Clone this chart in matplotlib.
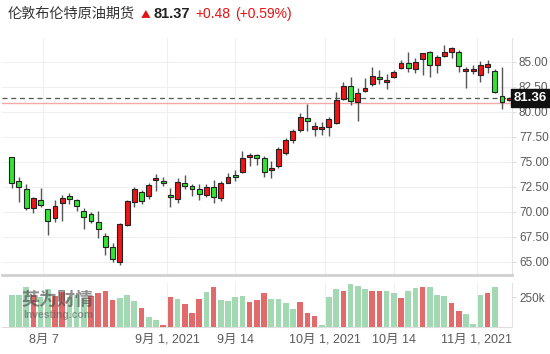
import matplotlib
matplotlib.use("Agg")
import matplotlib.pyplot as plt
import matplotlib.transforms as mtransforms
import numpy as np

# ---------------- data ----------------
opens  = [75.44, 73.10, 72.27, 70.34, 71.17, 70.24, 69.34, 70.84, 71.57, 71.17,
          70.10, 69.77, 69.00, 67.57, 66.50, 65.00, 68.67, 71.00, 71.94, 71.57,
          73.17, 73.10, 71.67, 71.24, 72.84, 72.57, 72.30, 71.67, 72.50, 71.34,
          72.90, 73.67, 73.94, 75.47, 75.64, 75.34, 74.14, 74.57, 75.90, 77.17,
          78.17, 79.40, 78.24, 78.30, 78.50, 78.90, 81.27, 82.57, 80.94, 82.10,
          82.74, 83.44, 82.94, 83.50, 84.34, 84.90, 84.24, 85.24, 85.94, 84.67,
          85.60, 86.00, 86.00, 84.10, 84.10, 83.67, 84.50, 84.07, 81.57, 81.20]
highs  = [75.50, 73.50, 72.77, 71.50, 72.34, 70.30, 71.17, 71.67, 71.84, 71.24,
          70.34, 70.00, 70.07, 67.84, 66.84, 68.90, 71.17, 72.50, 72.17, 72.84,
          73.74, 73.44, 72.34, 73.40, 73.67, 72.74, 72.74, 72.74, 73.17, 73.07,
          73.84, 74.17, 76.10, 75.90, 75.74, 75.57, 75.07, 76.44, 77.34, 78.24,
          79.90, 80.77, 79.00, 79.00, 79.50, 81.94, 83.00, 83.44, 82.34, 83.34,
          84.50, 84.17, 83.77, 84.17, 85.17, 85.94, 85.34, 85.90, 86.10, 85.67,
          86.67, 86.50, 86.17, 84.50, 84.67, 85.10, 85.17, 84.24, 84.50, 81.50]
lows   = [72.34, 71.00, 70.17, 69.84, 70.50, 67.67, 69.00, 69.07, 70.74, 70.07,
          68.24, 68.84, 67.34, 65.67, 65.00, 64.67, 68.57, 70.50, 70.74, 71.24,
          72.07, 72.60, 70.44, 70.90, 72.24, 71.57, 71.17, 71.44, 70.84, 71.10,
          72.84, 73.07, 73.84, 74.57, 74.67, 73.50, 73.34, 74.34, 75.67, 76.90,
          78.00, 78.10, 77.57, 77.67, 77.57, 78.77, 81.17, 80.67, 79.07, 82.00,
          82.57, 82.77, 82.27, 83.34, 84.24, 84.00, 83.90, 83.67, 83.50, 83.90,
          85.44, 85.34, 84.00, 82.34, 83.77, 83.00, 83.84, 81.84, 80.27, 81.10]
closes = [72.84, 72.44, 70.40, 71.34, 70.67, 69.07, 70.57, 71.40, 71.27, 70.57,
          69.50, 69.07, 68.24, 66.50, 65.24, 68.74, 71.07, 72.24, 71.10, 72.67,
          73.34, 72.84, 71.44, 73.00, 72.60, 72.27, 71.74, 72.50, 71.44, 72.90,
          73.44, 73.44, 75.40, 75.67, 75.40, 74.00, 74.34, 76.24, 77.17, 78.10,
          79.50, 79.10, 78.60, 78.50, 79.24, 81.17, 82.57, 81.10, 81.90, 82.34,
          83.60, 83.24, 83.17, 83.94, 84.90, 84.34, 85.00, 85.84, 84.67, 85.50,
          86.00, 86.34, 84.60, 84.27, 84.27, 84.67, 84.74, 81.94, 80.94, 81.36]

volumes_k = [269, 269, 334, 269, 255, 317, 264, 292, 255, 269,
             241, 264, 283, 306, 227, 241, 269, 218, 156, 79,
             57, 14, 255, 232, 190, 113, 232, 292, 334, 227,
             218, 249, 264, 210, 227, 283, 235, 232, 198, 147,
             207, 119, 91, 14, 255, 320, 306, 360, 349, 320,
             300, 300, 300, 283, 247, 306, 332, 340, 340, 269,
             264, 198, 133, 105, 20, 269, 283, 334]
volume_up = "gggrggrrgggrrrrgggrggrrgrrrgrggggrrrggggrrrgggrgggrrggrggrgggrrgggr"

price_ticks = [65.0, 67.5, 70.0, 72.5, 75.0, 77.5, 80.0, 82.5, 85.0]
date_tick_pos = [4.4, 21.6, 31.0, 43.4, 53.0, 64.5]
date_tick_labels = ["8月 7", "9月 1, 2021", "9月 14", "10月 1, 2021", "10月 14", "11月 1, 2021"]

last_price = 81.36
prev_close = 80.89
title_name = "伦敦布伦特原油期货"
title_price = "81.37"
title_change = "+0.48"
title_pct = "(+0.59%)"

# ---------------- styling ----------------
W, H = 550, 354
fig = plt.figure(figsize=(5.5, 3.54), dpi=100)
fig.patch.set_facecolor("white")
LAT = ["Liberation Sans", "Noto Sans CJK SC", "DejaVu Sans"]
CJK = ["Noto Sans CJK SC", "DejaVu Sans"]

GREEN = "#2fe62f"
RED = "#f01414"
VGREEN = "#a2d9b3"
VRED = "#e26a6a"
GRID = "#efefef"
TXT = "#5a5a5a"

x0, x1 = -1.35, 69.39
ax = fig.add_axes([2 / W, 1 - 275 / H, 510 / W, 237 / H])
axv = fig.add_axes([2 / W, 1 - 326.7 / H, 510 / W, 43.7 / H])

n = len(opens)
xs = np.arange(n)
o = np.array(opens); c = np.array(closes); hi = np.array(highs); lo = np.array(lows)
up = c >= o
cols = np.where(up, RED, GREEN)

ax.vlines(xs, lo, hi, color="#555555", lw=1.0, zorder=3)
bottoms = np.minimum(o, c)
heights = np.maximum(np.abs(c - o), 0.15)
ax.bar(xs, heights, bottom=bottoms, width=0.68, color=cols,
       edgecolor="#222222", linewidth=0.8, zorder=4)

ax.set_xlim(x0, x1)
ax.set_ylim(63.67, 87.37)
ax.yaxis.tick_right()
ax.set_yticks(price_ticks)
ax.set_yticklabels([f"{v:.2f}" for v in price_ticks], fontfamily=LAT, fontsize=8.5, color=TXT)
ax.tick_params(axis="y", length=3, color="#dddddd", pad=2)
ax.set_xticks(date_tick_pos)
ax.tick_params(axis="x", length=0, labelbottom=False)
ax.grid(True, color=GRID, lw=0.8, zorder=0)
for s in ["top", "left"]:
    ax.spines[s].set_visible(False)
ax.spines["right"].set_color("#e3e3e3")
ax.spines["bottom"].set_color("#d0d0d0")
ax.spines["bottom"].set_linewidth(2.0)

# reference lines
ax.axhline(prev_close, color="#f5a8a8", lw=1.0, zorder=2)
ax.axhline(last_price, color="#555555", lw=0.9, ls=(0, (4, 3)), zorder=2)
trans = mtransforms.blended_transform_factory(ax.transAxes, ax.transData)
ax.text(1.004, last_price, f"{last_price:.2f}", transform=trans, ha="left", va="center",
        fontsize=9.5, fontweight="bold", color="white", fontfamily=LAT, zorder=10,
        bbox=dict(boxstyle="square,pad=0.2", fc="#111111", ec="#111111"), clip_on=False)

# volume
vcols = [VRED if f == "r" else VGREEN for f in volume_up]
axv.bar(np.arange(len(volumes_k)), volumes_k, width=0.78, color=vcols, zorder=3)
axv.set_xlim(x0, x1)
axv.set_ylim(0, 372)
axv.yaxis.tick_right()
axv.set_yticks([250])
axv.set_yticklabels(["250k"], fontfamily=LAT, fontsize=8.5, color=TXT)
axv.tick_params(axis="y", length=3, color="#dddddd", pad=2)
axv.set_xticks(date_tick_pos)
axv.set_xticklabels(date_tick_labels, fontfamily=LAT, fontsize=9, color=TXT)
axv.tick_params(axis="x", length=0, pad=5)
axv.grid(True, axis="x", color=GRID, lw=0.8, zorder=0)
for s in ["top", "left"]:
    axv.spines[s].set_visible(False)
axv.spines["right"].set_color("#e3e3e3")
axv.spines["bottom"].set_color("#dddddd")

# watermark
fig.text(22 / W, 1 - 299 / H, "英为财情", fontfamily=CJK, fontsize=13, fontweight="bold",
         color="#444444", alpha=0.6, va="center", ha="left", zorder=20)
fig.text(23 / W, 1 - 315 / H, "Investing.com", fontfamily=LAT, fontsize=7.5, fontweight="bold",
         color="#555555", alpha=0.55, va="center", ha="left", zorder=20)

# title
ty = 1 - 14 / H
fig.text(8 / W, ty, title_name, fontfamily=CJK, fontsize=10.2, color="#333333", va="center", ha="left")
fig.text(141 / W, ty, "▲", fontfamily=CJK, fontsize=7, color="#e81010", va="center", ha="left")
fig.text(153 / W, ty, title_price, fontfamily=LAT, fontsize=10.5, fontweight="bold", color="#222222", va="center", ha="left")
fig.text(195 / W, ty, title_change, fontfamily=LAT, fontsize=10, color="#e81010", va="center", ha="left")
fig.text(235 / W, ty, title_pct, fontfamily=LAT, fontsize=10, color="#e81010", va="center", ha="left")

fig.savefig("out.png", dpi=100, facecolor="white")
